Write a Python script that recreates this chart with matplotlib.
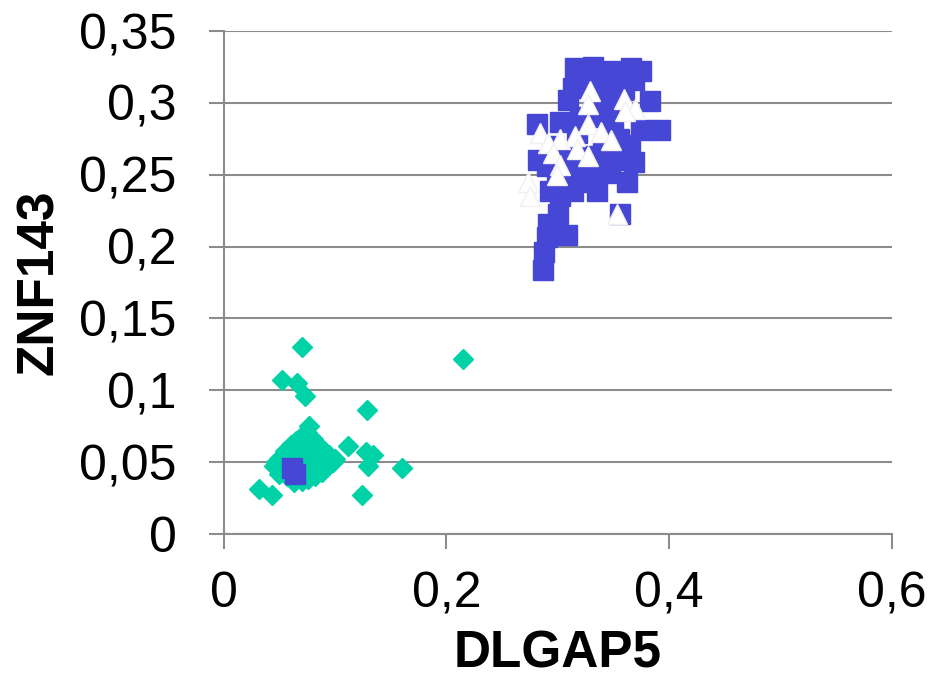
import matplotlib
matplotlib.use("Agg")
import matplotlib.pyplot as plt
from matplotlib.ticker import FuncFormatter

plt.rcParams["font.family"] = ["Liberation Sans", "DejaVu Sans"]

# green diamonds (low group)
green_x = [0.070, 0.215, 0.052, 0.066, 0.073, 0.129, 0.077, 0.112, 0.128, 0.134,
           0.130, 0.160, 0.124, 0.032, 0.043,
           0.045, 0.050, 0.055, 0.060, 0.065, 0.070, 0.075, 0.080, 0.085, 0.090,
           0.095, 0.098, 0.093, 0.088, 0.082, 0.076, 0.070, 0.063, 0.057, 0.050,
           0.047, 0.060, 0.065, 0.070, 0.075, 0.080, 0.072, 0.066, 0.078, 0.085,
           0.058, 0.062, 0.067, 0.073, 0.080, 0.090, 0.055, 0.100, 0.083]
green_y = [0.130, 0.122, 0.107, 0.105, 0.096, 0.086, 0.075, 0.061, 0.057, 0.055,
           0.047, 0.046, 0.027, 0.031, 0.027,
           0.047, 0.052, 0.058, 0.062, 0.065, 0.068, 0.070, 0.066, 0.062, 0.058,
           0.055, 0.050, 0.047, 0.043, 0.040, 0.038, 0.037, 0.036, 0.040, 0.042,
           0.050, 0.050, 0.055, 0.060, 0.055, 0.050, 0.045, 0.044, 0.060, 0.052,
           0.045, 0.057, 0.040, 0.052, 0.045, 0.050, 0.052, 0.052, 0.056]

# blue squares (high group, plus two in the low group)
blue_x = [0.315, 0.332, 0.350, 0.366, 0.375, 0.314, 0.309, 0.341, 0.383, 0.281,
          0.302, 0.392, 0.375, 0.365, 0.282, 0.290, 0.311, 0.329, 0.347, 0.362,
          0.293, 0.302, 0.314, 0.356, 0.300, 0.291, 0.308, 0.290, 0.288, 0.287,
          0.332, 0.353, 0.359, 0.317, 0.341, 0.326, 0.296, 0.368, 0.335, 0.299,
          0.350, 0.368, 0.345, 0.355, 0.335, 0.320, 0.360, 0.325, 0.345, 0.310,
          0.305, 0.320, 0.340, 0.355, 0.061, 0.064]
blue_y = [0.324, 0.325, 0.322, 0.324, 0.322, 0.310, 0.302, 0.314, 0.301, 0.285,
          0.287, 0.281, 0.281, 0.271, 0.260, 0.256, 0.253, 0.249, 0.251, 0.245,
          0.239, 0.235, 0.239, 0.223, 0.223, 0.216, 0.208, 0.207, 0.196, 0.184,
          0.297, 0.300, 0.309, 0.279, 0.267, 0.263, 0.270, 0.259, 0.239, 0.245,
          0.284, 0.316, 0.290, 0.275, 0.290, 0.290, 0.265, 0.310, 0.305, 0.265,
          0.250, 0.245, 0.255, 0.260, 0.046, 0.042]

# white triangles
tri_x = [0.329, 0.327, 0.359, 0.369, 0.360, 0.327, 0.284, 0.339, 0.348, 0.302,
         0.315, 0.291, 0.317, 0.296, 0.327, 0.302, 0.299, 0.273, 0.275, 0.353]
tri_y = [0.308, 0.299, 0.303, 0.296, 0.294, 0.285, 0.279, 0.280, 0.274, 0.275,
         0.277, 0.272, 0.268, 0.265, 0.263, 0.257, 0.250, 0.245, 0.235, 0.223]

x_ticks = [0, 0.2, 0.4, 0.6]
y_ticks = [0, 0.05, 0.1, 0.15, 0.2, 0.25, 0.3, 0.35]

GREEN = "#00D2A8"
BLUE = "#4747D6"
GRID = "#8C8C8C"

fig = plt.figure(figsize=(9.32, 6.89), dpi=100)
ax = fig.add_axes([0.240, 0.225, 0.717, 0.730])

ax.plot(green_x, green_y, "D", ms=10, color=GREEN, mec=GREEN, ls="none", zorder=3)
ax.plot(blue_x, blue_y, "s", ms=14, color=BLUE, mec=BLUE, ls="none", zorder=4)
ax.plot(tri_x, tri_y, "^", ms=14, color="white", mec="#F0F0F0", mew=1, ls="none", zorder=5)

ax.set_xlim(0, 0.6)
ax.set_ylim(0, 0.35)
ax.set_xticks(x_ticks)
ax.set_yticks(y_ticks)


def comma(v, pos):
    s = f"{v:.2f}".rstrip("0").rstrip(".")
    return s.replace(".", ",")


ax.xaxis.set_major_formatter(FuncFormatter(comma))
ax.yaxis.set_major_formatter(FuncFormatter(comma))

ax.grid(axis="y", color=GRID, linewidth=1.5, zorder=0)
ax.set_axisbelow(True)
for side in ["top", "right"]:
    ax.spines[side].set_visible(False)
for side in ["left", "bottom"]:
    ax.spines[side].set_color(GRID)
    ax.spines[side].set_linewidth(1.5)
ax.tick_params(axis="both", direction="out", length=11, width=1.5, color=GRID,
               labelsize=36)
ax.tick_params(axis="y", pad=23)
ax.tick_params(axis="x", pad=16)

ax.set_xlabel("DLGAP5", fontsize=37, fontweight="bold", labelpad=9)
ax.set_ylabel("ZNF143", fontsize=37, fontweight="bold", labelpad=11)

fig.savefig("out.png", dpi=100)
